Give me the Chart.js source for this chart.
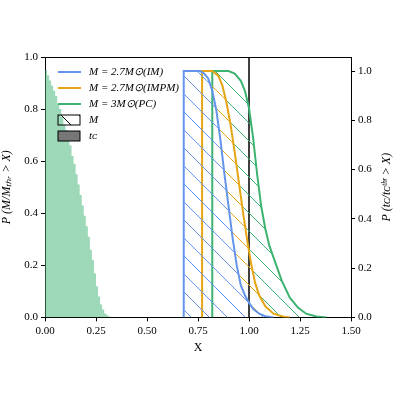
<!DOCTYPE html>
<html>
<head>
<meta charset="utf-8">
<script src="https://cdn.jsdelivr.net/npm/chart.js@4/dist/chart.umd.min.js"></script>
<style>
  html, body { margin: 0; padding: 0; background: #fff; }
  #wrap { width: 400px; height: 400px; }
</style>
</head>
<body>
<div id="wrap"><canvas id="grafico"></canvas></div>
<script>
// histograma t_c (eixo esquerdo), bins de 0.01
const tcX = [0,0.01,0.02,0.03,0.04,0.05,0.06,0.07,0.08,0.09,0.10,0.11,0.12,0.13,0.14,0.15,0.16,0.17,0.18,0.19,0.20,0.21,0.22,0.23,0.24,0.25,0.26,0.27,0.28,0.29,0.30,0.31,0.32,0.33,0.34];
const tcY = [0.95,0.95,0.93,0.91,0.89,0.87,0.85,0.82,0.80,0.77,0.74,0.72,0.69,0.66,0.62,0.59,0.55,0.51,0.47,0.43,0.39,0.35,0.31,0.26,0.22,0.17,0.12,0.08,0.05,0.03,0.015,0.008,0.003,0,0];

// curvas de massa (eixo direito)
const imX = [0.68,0.68,0.76,0.78,0.80,0.82,0.84,0.86,0.88,0.90,0.92,0.94,0.96,0.98,1.00,1.02,1.05,1.08,1.12];
const imY = [0,1,1,0.99,0.97,0.92,0.84,0.72,0.58,0.45,0.32,0.21,0.13,0.09,0.06,0.035,0.015,0.005,0];
const impmX = [0.77,0.77,0.82,0.85,0.87,0.89,0.91,0.93,0.95,0.97,0.99,1.01,1.03,1.05,1.08,1.12,1.17,1.20];
const impmY = [0,1,1,0.98,0.94,0.87,0.78,0.67,0.55,0.43,0.32,0.22,0.14,0.09,0.045,0.015,0.003,0];
const pcX = [0.82,0.82,0.90,0.93,0.96,0.98,1.00,1.02,1.04,1.06,1.08,1.10,1.13,1.16,1.20,1.24,1.28,1.33,1.38];
const pcY = [0,1,1,0.99,0.96,0.92,0.85,0.73,0.58,0.45,0.36,0.29,0.22,0.15,0.08,0.04,0.015,0.004,0];

const xTicks = [0,0.25,0.5,0.75,1.0,1.25,1.5];

const cores = { im: '#6495ed', impm: '#e6a514', pc: '#3cb371', hist: 'rgba(60,179,113,0.5)' };
const fonte = 'Liberation Serif';

const pts = (xs, ys) => xs.map((x, i) => ({ x, y: ys[i] }));

const hachura = (cor) => {
    const c = document.createElement('canvas');
    c.width = 18; c.height = 18;
    const g = c.getContext('2d');
    g.strokeStyle = cor; g.lineWidth = 1;
    g.beginPath();
    g.moveTo(-1, -1); g.lineTo(19, 19);
    g.moveTo(-10, 8); g.lineTo(1, 19);
    g.moveTo(8, -10); g.lineTo(19, 1);
    g.stroke();
    return g.createPattern(c, 'repeat');
};

const curva = (xs, ys, cor) => ({
    data: pts(xs, ys), yAxisID: 'y2', borderColor: cor, borderWidth: 2,
    backgroundColor: hachura(cor), fill: 'origin', pointRadius: 0, tension: 0
});

const legenda = {
    id: 'legenda',
    afterDraw(chart) {
        const ctx = chart.ctx;
        const a = chart.chartArea;
        ctx.save();
        // borda superior
        ctx.strokeStyle = '#000'; ctx.lineWidth = 1;
        ctx.beginPath(); ctx.moveTo(a.left, a.top + 0.5); ctx.lineTo(a.right, a.top + 0.5); ctx.stroke();

        // titulo do eixo direito, lido de baixo para cima
        ctx.save();
        ctx.translate(387, (a.top + a.bottom) / 2);
        ctx.rotate(-Math.PI / 2);
        ctx.font = 'italic 12px "' + fonte + '"';
        ctx.textAlign = 'center'; ctx.textBaseline = 'middle'; ctx.fillStyle = '#000';
        ctx.fillText('P (t\u1d04/t\u1d04\u1d57\u02b0\u02b3 > X)', 0, 0);
        ctx.restore();

        ctx.font = 'italic 11px "' + fonte + '"';
        ctx.textBaseline = 'middle';
        const itens = [
            ['l', cores.im, 'M = 2.7M\u2299(IM)'],
            ['l', cores.impm, 'M = 2.7M\u2299(IMPM)'],
            ['l', cores.pc, 'M = 3M\u2299(PC)'],
            ['h', '#000', 'M'],
            ['f', '#777', 't\u1d04']
        ];
        itens.forEach(([tipo, cor, txt], i) => {
            const y = 72 + i * 16;
            if (tipo === 'l') {
                ctx.strokeStyle = cor; ctx.lineWidth = 2;
                ctx.beginPath(); ctx.moveTo(58, y); ctx.lineTo(81, y); ctx.stroke();
            } else {
                ctx.fillStyle = tipo === 'h' ? hachura('#000') : cor;
                ctx.fillRect(58, y - 5, 22, 10);
                ctx.strokeStyle = '#000'; ctx.lineWidth = 1;
                ctx.strokeRect(58, y - 5, 22, 10);
            }
            ctx.fillStyle = '#000';
            ctx.fillText(txt, 89, y);
        });
        ctx.restore();
    }
};

const eixo = (extra) => Object.assign({
    border: { color: '#000', width: 1 },
    grid: { drawOnChartArea: false, color: '#000', tickLength: 4 },
    ticks: { color: '#000', font: { family: fonte, size: 11 } }
}, extra);

new Chart(document.getElementById('grafico').getContext('2d'), {
    type: 'line',
    data: {
        datasets: [
            { data: pts(tcX, tcY), yAxisID: 'y', stepped: 'after', borderWidth: 0, borderColor: 'rgba(0,0,0,0)',
              backgroundColor: cores.hist, fill: 'origin', pointRadius: 0 },
            curva(imX, imY, cores.im),
            curva(impmX, impmY, cores.impm),
            curva(pcX, pcY, cores.pc),
            { data: [{ x: 1, y: 0 }, { x: 1, y: 1.06 }], yAxisID: 'y2', borderColor: '#000', borderWidth: 1.5, pointRadius: 0, fill: false }
        ]
    },
    options: {
        responsive: true, maintainAspectRatio: false, animation: false,
        layout: { padding: { top: 57, bottom: 45, left: 0, right: 0 } },
        plugins: { legend: { display: false }, tooltip: { enabled: false } },
        scales: {
            x: eixo({
                type: 'linear', min: 0, max: 1.5,
                afterBuildTicks: (s) => { s.ticks = xTicks.map(v => ({ value: v })); },
                ticks: { color: '#000', font: { family: fonte, size: 11 }, callback: v => v.toFixed(2) },
                title: { display: true, text: 'X', color: '#000', font: { family: fonte, size: 12 }, padding: 0 }
            }),
            y: eixo({
                position: 'left', min: 0, max: 1.0,
                ticks: { color: '#000', font: { family: fonte, size: 11 }, stepSize: 0.2, callback: v => v.toFixed(1) },
                title: { display: true, text: 'P (M/M\u209c\u2095\u1d63 > X)', color: '#000', font: { family: fonte, size: 12, style: 'italic' }, padding: 0 },
                afterFit: (s) => { s.width = 45; }
            }),
            y2: eixo({
                position: 'right', min: 0, max: 1.057,
                afterBuildTicks: (s) => { s.ticks = [0,0.2,0.4,0.6,0.8,1.0].map(v => ({ value: v })); },
                ticks: { color: '#000', font: { family: fonte, size: 11 }, callback: v => v.toFixed(1) },
                afterFit: (s) => { s.width = 49; }
            })
        }
    },
    plugins: [legenda]
});
</script>
</body>
</html>
